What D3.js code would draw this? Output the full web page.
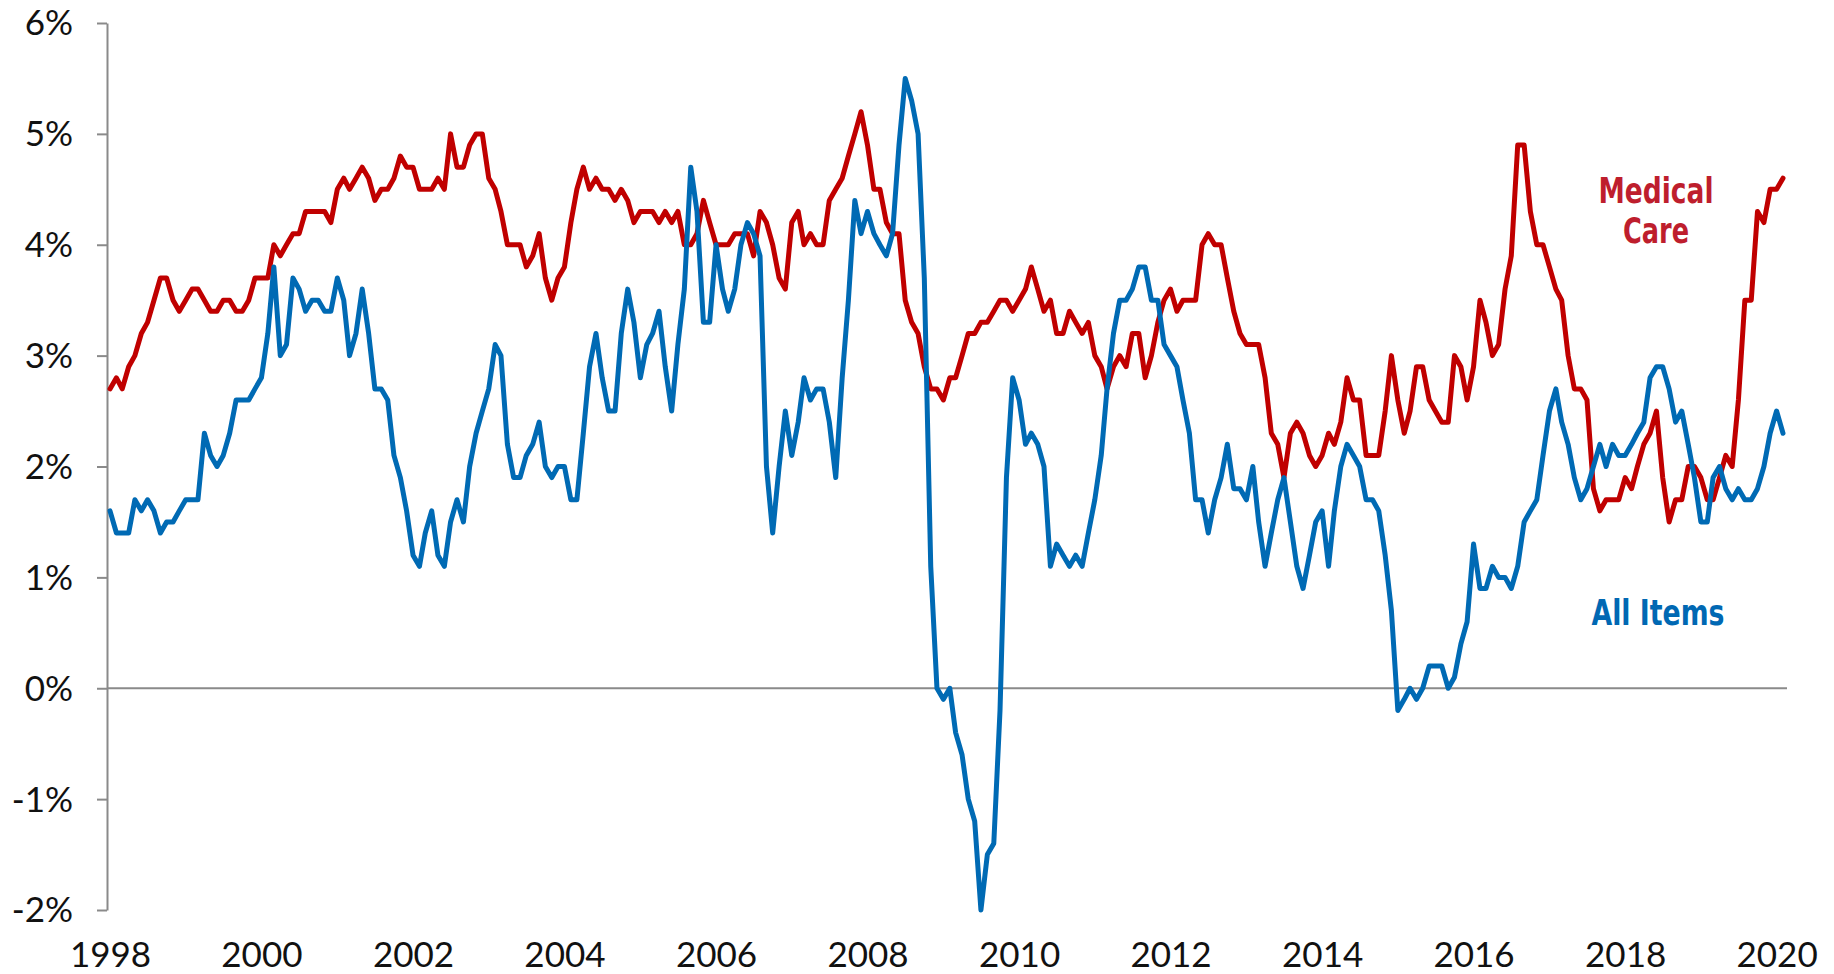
<!DOCTYPE html>
<html>
<head>
<meta charset="utf-8">
<script src="https://cdn.jsdelivr.net/npm/d3@7"></script>
<style>
    body { margin: 0; background: #fff; }
    svg { display: block; }
</style>
</head>
<body>
<svg id="chart" width="1834" height="974"></svg>
<script>
// monthly values, Jan 1998 .. Feb 2020 (year-over-year %)
var startMonth = new Date(1998, 0, 1);

var medicalCare = [
    2.7, 2.8, 2.7, 2.9, 3.0, 3.2, 3.3, 3.5, 3.7, 3.7, 3.5, 3.4, // 1998
    3.5, 3.6, 3.6, 3.5, 3.4, 3.4, 3.5, 3.5, 3.4, 3.4, 3.5, 3.7, // 1999
    3.7, 3.7, 4.0, 3.9, 4.0, 4.1, 4.1, 4.3, 4.3, 4.3, 4.3, 4.2, // 2000
    4.5, 4.6, 4.5, 4.6, 4.7, 4.6, 4.4, 4.5, 4.5, 4.6, 4.8, 4.7, // 2001
    4.7, 4.5, 4.5, 4.5, 4.6, 4.5, 5.0, 4.7, 4.7, 4.9, 5.0, 5.0, // 2002
    4.6, 4.5, 4.3, 4.0, 4.0, 4.0, 3.8, 3.9, 4.1, 3.7, 3.5, 3.7, // 2003
    3.8, 4.2, 4.5, 4.7, 4.5, 4.6, 4.5, 4.5, 4.4, 4.5, 4.4, 4.2, // 2004
    4.3, 4.3, 4.3, 4.2, 4.3, 4.2, 4.3, 4.0, 4.0, 4.1, 4.4, 4.2, // 2005
    4.0, 4.0, 4.0, 4.1, 4.1, 4.1, 3.9, 4.3, 4.2, 4.0, 3.7, 3.6, // 2006
    4.2, 4.3, 4.0, 4.1, 4.0, 4.0, 4.4, 4.5, 4.6, 4.8, 5.0, 5.2, // 2007
    4.9, 4.5, 4.5, 4.2, 4.1, 4.1, 3.5, 3.3, 3.2, 2.9, 2.7, 2.7, // 2008
    2.6, 2.8, 2.8, 3.0, 3.2, 3.2, 3.3, 3.3, 3.4, 3.5, 3.5, 3.4, // 2009
    3.5, 3.6, 3.8, 3.6, 3.4, 3.5, 3.2, 3.2, 3.4, 3.3, 3.2, 3.3, // 2010
    3.0, 2.9, 2.7, 2.9, 3.0, 2.9, 3.2, 3.2, 2.8, 3.0, 3.3, 3.5, // 2011
    3.6, 3.4, 3.5, 3.5, 3.5, 4.0, 4.1, 4.0, 4.0, 3.7, 3.4, 3.2, // 2012
    3.1, 3.1, 3.1, 2.8, 2.3, 2.2, 1.9, 2.3, 2.4, 2.3, 2.1, 2.0, // 2013
    2.1, 2.3, 2.2, 2.4, 2.8, 2.6, 2.6, 2.1, 2.1, 2.1, 2.5, 3.0, // 2014
    2.6, 2.3, 2.5, 2.9, 2.9, 2.6, 2.5, 2.4, 2.4, 3.0, 2.9, 2.6, // 2015
    2.9, 3.5, 3.3, 3.0, 3.1, 3.6, 3.9, 4.9, 4.9, 4.3, 4.0, 4.0, // 2016
    3.8, 3.6, 3.5, 3.0, 2.7, 2.7, 2.6, 1.8, 1.6, 1.7, 1.7, 1.7, // 2017
    1.9, 1.8, 2.0, 2.2, 2.3, 2.5, 1.9, 1.5, 1.7, 1.7, 2.0, 2.0, // 2018
    1.9, 1.7, 1.7, 1.9, 2.1, 2.0, 2.6, 3.5, 3.5, 4.3, 4.2, 4.5, // 2019
    4.5, 4.6                                                    // 2020
];

var allItems = [
    1.6, 1.4, 1.4, 1.4, 1.7, 1.6, 1.7, 1.6, 1.4, 1.5, 1.5, 1.6, // 1998
    1.7, 1.7, 1.7, 2.3, 2.1, 2.0, 2.1, 2.3, 2.6, 2.6, 2.6, 2.7, // 1999
    2.8, 3.2, 3.8, 3.0, 3.1, 3.7, 3.6, 3.4, 3.5, 3.5, 3.4, 3.4, // 2000
    3.7, 3.5, 3.0, 3.2, 3.6, 3.2, 2.7, 2.7, 2.6, 2.1, 1.9, 1.6, // 2001
    1.2, 1.1, 1.4, 1.6, 1.2, 1.1, 1.5, 1.7, 1.5, 2.0, 2.3, 2.5, // 2002
    2.7, 3.1, 3.0, 2.2, 1.9, 1.9, 2.1, 2.2, 2.4, 2.0, 1.9, 2.0, // 2003
    2.0, 1.7, 1.7, 2.3, 2.9, 3.2, 2.8, 2.5, 2.5, 3.2, 3.6, 3.3, // 2004
    2.8, 3.1, 3.2, 3.4, 2.9, 2.5, 3.1, 3.6, 4.7, 4.3, 3.3, 3.3, // 2005
    4.0, 3.6, 3.4, 3.6, 4.0, 4.2, 4.1, 3.9, 2.0, 1.4, 2.0, 2.5, // 2006
    2.1, 2.4, 2.8, 2.6, 2.7, 2.7, 2.4, 1.9, 2.8, 3.5, 4.4, 4.1, // 2007
    4.3, 4.1, 4.0, 3.9, 4.1, 4.9, 5.5, 5.3, 5.0, 3.7, 1.1, 0.0, // 2008
    -0.1, 0.0, -0.4, -0.6, -1.0, -1.2, -2.0, -1.5, -1.4, -0.2, 1.9, 2.8, // 2009
    2.6, 2.2, 2.3, 2.2, 2.0, 1.1, 1.3, 1.2, 1.1, 1.2, 1.1, 1.4, // 2010
    1.7, 2.1, 2.7, 3.2, 3.5, 3.5, 3.6, 3.8, 3.8, 3.5, 3.5, 3.1, // 2011
    3.0, 2.9, 2.6, 2.3, 1.7, 1.7, 1.4, 1.7, 1.9, 2.2, 1.8, 1.8, // 2012
    1.7, 2.0, 1.5, 1.1, 1.4, 1.7, 1.9, 1.5, 1.1, 0.9, 1.2, 1.5, // 2013
    1.6, 1.1, 1.6, 2.0, 2.2, 2.1, 2.0, 1.7, 1.7, 1.6, 1.2, 0.7, // 2014
    -0.2, -0.1, 0.0, -0.1, 0.0, 0.2, 0.2, 0.2, 0.0, 0.1, 0.4, 0.6, // 2015
    1.3, 0.9, 0.9, 1.1, 1.0, 1.0, 0.9, 1.1, 1.5, 1.6, 1.7, 2.1, // 2016
    2.5, 2.7, 2.4, 2.2, 1.9, 1.7, 1.8, 2.0, 2.2, 2.0, 2.2, 2.1, // 2017
    2.1, 2.2, 2.3, 2.4, 2.8, 2.9, 2.9, 2.7, 2.4, 2.5, 2.2, 1.9, // 2018
    1.5, 1.5, 1.9, 2.0, 1.8, 1.7, 1.8, 1.7, 1.7, 1.8, 2.0, 2.3, // 2019
    2.5, 2.3                                                    // 2020
];

var yTicks = [-2, -1, 0, 1, 2, 3, 4, 5, 6];
var xTickYears = [1998, 2000, 2002, 2004, 2006, 2008, 2010, 2012, 2014, 2016, 2018, 2020];

var labelFont = "Lato, 'Open Sans', sans-serif";
var seriesFont = "'Liberation Sans Narrow', 'DejaVu Sans Condensed', 'Arial Narrow', sans-serif";

var months = medicalCare.map(function (d, i) { return d3.timeMonth.offset(startMonth, i); });

var x = d3.scaleTime()
    .domain([months[0], months[months.length - 1]])
    .range([110, 1783]);

var y = d3.scaleLinear()
    .domain([-2, 6])
    .range([910, 23]);

var svg = d3.select("#chart");

// y axis
var yAxis = d3.axisLeft(y)
    .tickValues(yTicks)
    .tickSize(10)
    .tickSizeOuter(0)
    .tickPadding(24)
    .tickFormat(function (d) { return d + "%"; });

var gy = svg.append("g")
    .attr("transform", "translate(107,0)")
    .call(yAxis);
gy.select(".domain").attr("stroke", "#8a8a8a").attr("stroke-width", 2);
gy.selectAll(".tick line").attr("stroke", "#8a8a8a").attr("stroke-width", 2);
gy.selectAll(".tick text")
    .attr("font-family", labelFont)
    .attr("font-size", 35)
    .attr("fill", "#111")
    .attr("dy", "0.34em");

// zero line
svg.append("line")
    .attr("x1", 107).attr("x2", 1787)
    .attr("y1", y(0)).attr("y2", y(0))
    .attr("stroke", "#8a8a8a")
    .attr("stroke-width", 2);

// x axis (labels only)
var xAxis = d3.axisBottom(x)
    .tickValues(xTickYears.map(function (yr) { return new Date(yr, 0, 1); }))
    .tickSize(0)
    .tickPadding(0)
    .tickFormat(d3.timeFormat("%Y"));

var gx = svg.append("g")
    .attr("transform", "translate(0,967)")
    .call(xAxis);
gx.select(".domain").remove();
gx.selectAll(".tick text")
    .attr("font-family", labelFont)
    .attr("font-size", 35)
    .attr("fill", "#111")
    .attr("y", 0)
    .attr("dy", 0);

// lines
var line = d3.line()
    .x(function (d, i) { return x(months[i]); })
    .y(function (d) { return y(d); });

svg.append("path")
    .datum(medicalCare)
    .attr("fill", "none")
    .attr("stroke", "#c00000")
    .attr("stroke-width", 5)
    .attr("stroke-linejoin", "round")
    .attr("stroke-linecap", "round")
    .attr("d", line);

svg.append("path")
    .datum(allItems)
    .attr("fill", "none")
    .attr("stroke", "#006ab4")
    .attr("stroke-width", 5)
    .attr("stroke-linejoin", "round")
    .attr("stroke-linecap", "round")
    .attr("d", line);

// series labels (condensed, squeezed to the reference widths)
function seriesLabel(txt, cx, by, width, color) {
    svg.append("text")
        .attr("x", cx)
        .attr("y", by)
        .attr("font-family", seriesFont)
        .attr("font-weight", "bold")
        .attr("font-size", 35)
        .attr("fill", color)
        .attr("text-anchor", "middle")
        .attr("textLength", width)
        .attr("lengthAdjust", "spacingAndGlyphs")
        .text(txt);
}
seriesLabel("Medical", 1656, 203, 115, "#be1e2d");
seriesLabel("Care", 1656, 243, 66, "#be1e2d");
seriesLabel("All Items", 1658, 625, 133, "#0068b3");
</script>
</body>
</html>
